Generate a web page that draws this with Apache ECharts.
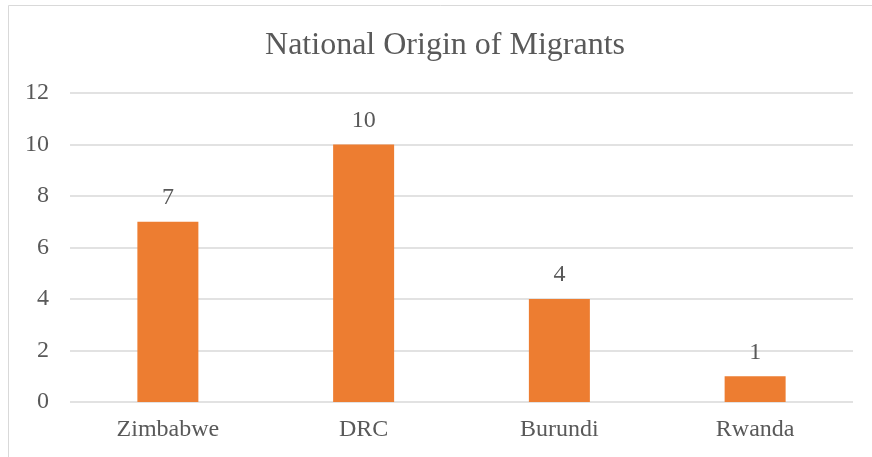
<!DOCTYPE html>
<html>
<head>
<meta charset="utf-8">
<script src="https://cdn.jsdelivr.net/npm/echarts@6/dist/echarts.min.js"></script>
<style>
  html, body { margin: 0; padding: 0; background: #fff; }
  #chart { width: 872px; height: 457px; }
</style>
</head>
<body>
<div id="chart"></div>
<script>
// Country of origin and number of migrants
const countries = ['Zimbabwe', 'DRC', 'Burundi', 'Rwanda'];
const migrants = [7, 10, 4, 1];
const yTicks = { min: 0, max: 12, interval: 2 };

const serif = '"Liberation Serif", "Times New Roman", serif';
const textColor = '#595959';

const chart = echarts.init(document.getElementById('chart'), null, { renderer: 'canvas' });
chart.setOption({
  animation: false,
  backgroundColor: '#ffffff',
  title: {
    text: 'National Origin of Migrants',
    left: 440,
    top: 25,
    textAlign: 'center',
    textStyle: { fontFamily: serif, fontSize: 32, fontWeight: 'normal', color: textColor }
  },
  graphic: [{
    type: 'rect',
    shape: { x: 8.5, y: 5.5, width: 1000, height: 1000 },
    style: { fill: 'none', stroke: '#d9d9d9', lineWidth: 1 },
    silent: true
  }],
  grid: { left: 70, right: 19, top: 93, bottom: 55, containLabel: false },
  xAxis: {
    type: 'category',
    data: countries,
    axisLine: { show: false },
    axisTick: { show: false },
    axisLabel: { fontFamily: serif, fontSize: 24, color: textColor, margin: 16 }
  },
  yAxis: {
    type: 'value',
    min: yTicks.min,
    max: yTicks.max,
    interval: yTicks.interval,
    axisLine: { show: false },
    axisTick: { show: false },
    axisLabel: { fontFamily: serif, fontSize: 24, color: textColor, margin: 21 },
    splitLine: { lineStyle: { color: '#d9d9d9', width: 1.5 } }
  },
  series: [{
    type: 'bar',
    data: migrants,
    barWidth: 61,
    itemStyle: { color: '#ED7D31' },
    label: {
      show: true,
      position: 'top',
      distance: 12,
      fontFamily: serif,
      fontSize: 24,
      color: textColor
    }
  }]
});
</script>
</body>
</html>
